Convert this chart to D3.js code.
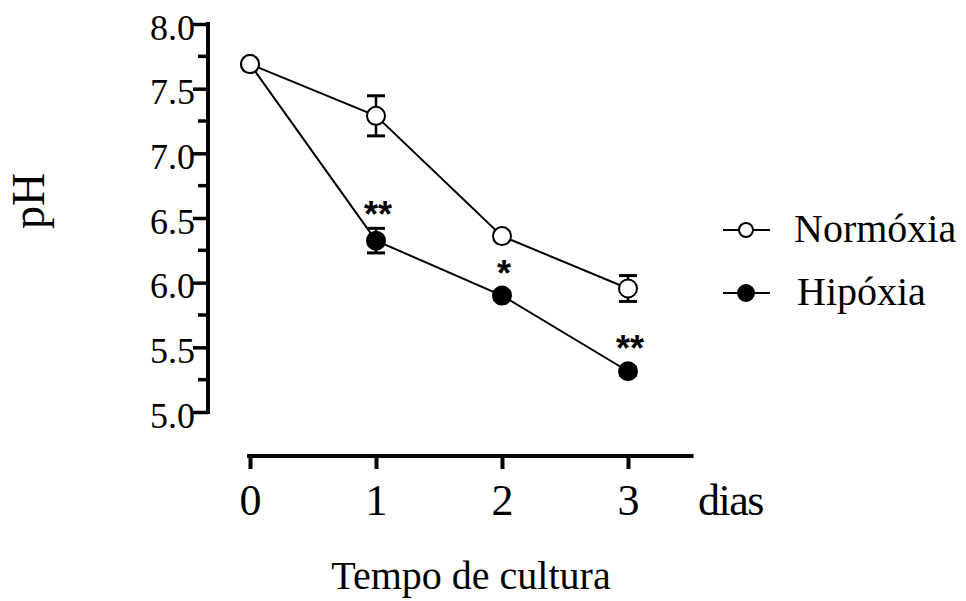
<!DOCTYPE html>
<html>
<head>
<meta charset="utf-8">
<script src="https://cdn.jsdelivr.net/npm/d3@7"></script>
<style>
  html, body { margin: 0; padding: 0; background: #fff; }
  svg { display: block; }
  text { font-family: "Liberation Serif", "Times New Roman", serif; fill: #000; }
</style>
</head>
<body>
<svg id="chart" width="966" height="601"></svg>
<script>
// Culture time (days)
const days = [0, 1, 2, 3];
const dayLabels = ["0", "1", "2", "3"];

// pH, mean and error per group
const normoxiaMean = [7.69, 7.29, 6.36, 5.955];
const normoxiaErr  = [0.00, 0.155, 0.03, 0.10];
const hipoxiaMean  = [7.69, 6.325, 5.90, 5.315];
const hipoxiaErr   = [0.00, 0.095, 0.03, 0.03];

// Significance vs. normoxia
const hipoxiaSig = ["", "**", "*", "**"];

const seriesNames = ["Normóxia", "Hipóxia"];
const yMajorTicks = [5.0, 5.5, 6.0, 6.5, 7.0, 7.5, 8.0];
const yMinorTicks = [5.25, 5.75, 6.25, 6.75, 7.25, 7.75];

const svg = d3.select("#chart");

const x = d3.scaleLinear().domain([0, 3]).range([250, 628]);
const y = d3.scaleLinear().domain([5, 8]).range([412, 24]);

const series = [
  { name: seriesNames[0], mean: normoxiaMean, err: normoxiaErr, fill: "#fff", sig: null },
  { name: seriesNames[1], mean: hipoxiaMean, err: hipoxiaErr, fill: "#000", sig: hipoxiaSig }
];

// ---- Y axis ----
const yAxisG = svg.append("g").attr("transform", "translate(208,0)");
yAxisG.call(d3.axisLeft(y).tickValues(yMajorTicks).tickSize(15).tickPadding(0)
  .tickFormat(d3.format(".1f")));
yAxisG.select(".domain").remove();
yAxisG.selectAll(".tick line").attr("stroke", "#000").attr("stroke-width", 3.5);
yAxisG.selectAll(".tick text")
  .style("font-size", "36px")
  .attr("dy", "0.42em")
  .attr("x", -13);
yAxisG.append("line")
  .attr("x1", 0).attr("x2", 0)
  .attr("y1", y(8) - 2).attr("y2", y(5) + 2)
  .attr("stroke", "#000").attr("stroke-width", 4);
yAxisG.selectAll(".minor")
  .data(yMinorTicks).enter().append("line")
  .attr("class", "minor")
  .attr("x1", -10).attr("x2", 0)
  .attr("y1", d => y(d)).attr("y2", d => y(d))
  .attr("stroke", "#000").attr("stroke-width", 3.5);

// ---- X axis ----
const xAxisG = svg.append("g").attr("transform", "translate(0,456)");
xAxisG.call(d3.axisBottom(x).tickValues(days).tickSize(13).tickPadding(15)
  .tickFormat((d, i) => dayLabels[i]));
xAxisG.select(".domain").remove();
xAxisG.selectAll(".tick line").attr("stroke", "#000").attr("stroke-width", 4);
xAxisG.selectAll(".tick text").style("font-size", "44px");
xAxisG.append("line")
  .attr("x1", x(0) - 3).attr("x2", x(3.52))
  .attr("y1", 0).attr("y2", 0)
  .attr("stroke", "#000").attr("stroke-width", 4);
xAxisG.append("text")
  .attr("x", 698).attr("y", 59)
  .attr("text-anchor", "start")
  .style("font-size", "44px")
  .style("letter-spacing", "-1.5px")
  .text("dias");

// ---- Axis titles ----
svg.append("text")
  .attr("transform", "translate(44,201) rotate(-90)")
  .attr("text-anchor", "middle")
  .style("font-size", "46px")
  .text("pH");

svg.append("text")
  .attr("x", 471).attr("y", 589)
  .attr("text-anchor", "middle")
  .style("font-size", "40px")
  .text("Tempo de cultura");

// ---- Series ----
const R = 9;
const line = d3.line().x((d, i) => x(days[i])).y(d => y(d));

const linesG = svg.append("g");
const barsG = svg.append("g");
const marksG = svg.append("g");

// connecting lines and error bars for both groups
series.forEach(s => {
  linesG.append("path")
    .datum(s.mean)
    .attr("d", line)
    .attr("fill", "none")
    .attr("stroke", "#000")
    .attr("stroke-width", 2);

  s.mean.forEach((m, i) => {
    if (!s.err[i]) return;
    const cx = x(days[i]);
    const yt = y(m + s.err[i]), yb = y(m - s.err[i]);
    barsG.append("line").attr("x1", cx).attr("x2", cx).attr("y1", yt).attr("y2", yb)
      .attr("stroke", "#000").attr("stroke-width", 2.5);
    [yt, yb].forEach(yy => {
      barsG.append("line").attr("x1", cx - 9).attr("x2", cx + 9).attr("y1", yy).attr("y2", yy)
        .attr("stroke", "#000").attr("stroke-width", 3);
    });
  });
});

// symbols: hypoxia first so the shared day-0 point shows the open circle
series.slice().reverse().forEach(s => {
  marksG.append("g").selectAll("circle")
    .data(s.mean).enter().append("circle")
    .attr("cx", (d, i) => x(days[i]))
    .attr("cy", d => y(d))
    .attr("r", R)
    .attr("fill", s.fill)
    .attr("stroke", "#000")
    .attr("stroke-width", 2);

  if (s.sig) {
    s.sig.forEach((lab, i) => {
      if (!lab) return;
      const top = Math.min(y(s.mean[i] + s.err[i]), y(s.mean[i]) - R);
      marksG.append("text")
        .attr("x", x(days[i]) + 2)
        .attr("y", top - 1)
        .attr("text-anchor", "middle")
        .style("font-family", "'Liberation Sans', Arial, sans-serif")
        .style("font-weight", "bold")
        .style("font-size", "36px")
        .text(lab);
    });
  }
});

// ---- Legend ----
const legendRows = [230, 293];
series.forEach((s, i) => {
  const ly = legendRows[i];
  const lg = svg.append("g");
  lg.append("line").attr("x1", 723).attr("x2", 770).attr("y1", ly).attr("y2", ly)
    .attr("stroke", "#000").attr("stroke-width", 2);
  lg.append("circle").attr("cx", 746).attr("cy", ly).attr("r", i === 0 ? 7 : 8)
    .attr("fill", s.fill).attr("stroke", "#000").attr("stroke-width", 2);
  lg.append("text")
    .attr("x", i === 0 ? 794 : 797).attr("y", ly + 12)
    .style("font-size", "40px")
    .text(s.name);
});
</script>
</body>
</html>
